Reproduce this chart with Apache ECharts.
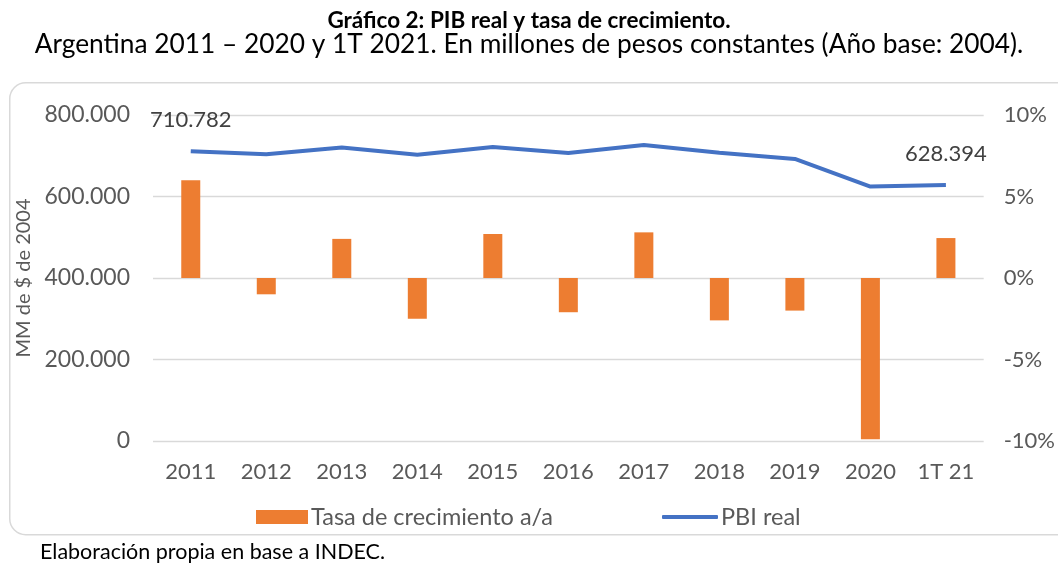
<!DOCTYPE html>
<html><head><meta charset="utf-8">
<script src="https://cdn.jsdelivr.net/npm/echarts@6/dist/echarts.min.js"></script>
<style>html,body{margin:0;padding:0;background:#fff}#c{width:1058px;height:563px}</style>
</head><body><div id="c"></div>
<script>
const categories = ['2011','2012','2013','2014','2015','2016','2017','2018','2019','2020','1T 21'];
const tasa = [6.0, -1.0, 2.4, -2.5, 2.7, -2.1, 2.8, -2.6, -2.0, -9.9, 2.45];
const pbi = [710782, 703486, 720407, 702306, 721487, 706478, 726390, 707377, 692224, 624525, 628394];
const leftTicks = [0, 200000, 400000, 600000, 800000];
const rightTicks = [-10, -5, 0, 5, 10];

const F = 'Lato, "Liberation Sans", sans-serif';
const fmtNum = v => v === 0 ? '0' : Math.round(v).toString().replace(/\B(?=(\d{3})+(?!\d))/g, '.');
const chart = echarts.init(document.getElementById('c'));
chart.setOption({
  animation: false,
  backgroundColor: '#fff',
  graphic: [{
    type: 'rect', left: 9, top: 82, z: -1,
    shape: { width: 1070, height: 452, r: 16 },
    style: { fill: '#fff', stroke: '#d9d9d9', lineWidth: 1.5 }
  }],
  title: [
    { text: 'Gráfico 2: PIB real y tasa de crecimiento.', left: 'center', top: 4,
      textStyle: { fontFamily: F, fontSize: 22.5, fontWeight: 'bold', color: '#000' } },
    { text: 'Argentina 2011 – 2020 y 1T 2021. En millones de pesos constantes (Año base: 2004).', left: 'center', top: 27,
      textStyle: { fontFamily: F, fontSize: 26.3, fontWeight: 'normal', color: '#000' } },
    { text: 'Elaboración propia en base a INDEC.', left: 35, top: 536,
      textStyle: { fontFamily: F, fontSize: 21.5, fontWeight: 'normal', color: '#000' } }
  ],
  legend: [
    { top: 505, left: 256, itemGap: 0, padding: 0,
      itemWidth: 52, itemHeight: 14, icon: 'rect',
      textStyle: { fontFamily: F, fontSize: 23.5, color: '#595959', padding: [0, 0, 0, -2] },
      data: ['Tasa de crecimiento a/a'] },
    { top: 505, left: 662, itemGap: 0, padding: 0,
      itemWidth: 56, itemHeight: 4, icon: 'roundRect',
      textStyle: { fontFamily: F, fontSize: 23.5, color: '#595959', padding: [0, 0, 0, -2] },
      data: ['PBI real'] }
  ],
  grid: { left: 153, right: 72, top: 115, bottom: 122 },
  xAxis: {
    type: 'category', data: categories,
    axisLine: { show: false }, axisTick: { show: false },
    axisLabel: { fontFamily: F, fontSize: 22, color: '#595959', margin: 20 }
  },
  yAxis: [
    { type: 'value', min: 0, max: 800000, interval: 200000,
      name: 'MM de $ de 2004', nameLocation: 'middle', nameGap: 119, nameRotate: 90,
      nameTextStyle: { fontFamily: F, fontSize: 20, color: '#595959' },
      axisLine: { show: false }, axisTick: { show: false },
      axisLabel: { fontFamily: F, fontSize: 23, color: '#595959', margin: 23, formatter: fmtNum },
      splitLine: { lineStyle: { color: '#d9d9d9', width: 1.3 } } },
    { type: 'value', min: -10, max: 10, interval: 5, position: 'right',
      axisLine: { show: false }, axisTick: { show: false },
      axisLabel: { fontFamily: F, fontSize: 22, color: '#595959', margin: 20, formatter: v => v + '%' },
      splitLine: { show: false } }
  ],
  series: [
    { name: 'Tasa de crecimiento a/a', type: 'bar', yAxisIndex: 1, data: tasa,
      barWidth: 19, itemStyle: { color: '#ED7D31' } },
    { name: 'PBI real', type: 'line', yAxisIndex: 0, z: 3, data: pbi,
      symbol: 'circle', symbolSize: 0.1, showSymbol: true,
      label: { show: true, position: 'top', distance: 20,
        formatter: p => (p.dataIndex === 0 || p.dataIndex === pbi.length - 1) ? fmtNum(p.value) : '',
        fontFamily: F, fontSize: 22, color: '#404040' },
      lineStyle: { color: '#4472C4', width: 4 }, itemStyle: { color: '#4472C4' } }
  ]
});
</script></body></html>
